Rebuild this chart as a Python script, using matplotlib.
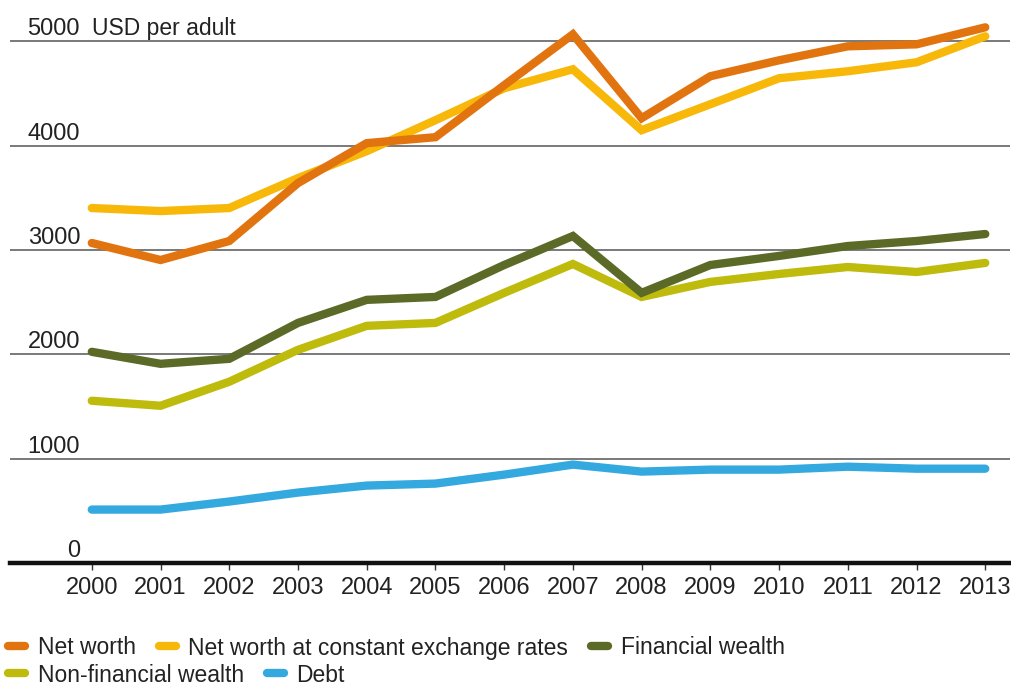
import matplotlib
matplotlib.use('Agg')
import matplotlib.pyplot as plt
from matplotlib.lines import Line2D

plt.rcParams['font.family'] = ['Liberation Sans', 'DejaVu Sans']

years = list(range(2000, 2014))
net_worth = [3067, 2904, 3086, 3641, 4024, 4081, 4579, 5067, 4263, 4665, 4818, 4952, 4971, 5134]
net_worth_const = [3402, 3373, 3402, 3689, 3947, 4244, 4550, 4732, 4148, 4397, 4646, 4713, 4799, 5048]
financial = [2024, 1909, 1957, 2301, 2522, 2550, 2856, 3134, 2589, 2856, 2943, 3038, 3086, 3153]
non_financial = [1555, 1507, 1737, 2043, 2273, 2301, 2589, 2866, 2550, 2694, 2770, 2837, 2789, 2876]
debt = [512, 512, 589, 675, 742, 761, 847, 943, 876, 895, 895, 923, 904, 904]

y_ticks = [0, 1000, 2000, 3000, 4000, 5000]
unit_label = 'USD per adult'

series = [
    ('Net worth', net_worth, '#E2740F'),
    ('Net worth at constant exchange rates', net_worth_const, '#F8B80A'),
    ('Financial wealth', financial, '#5B6A26'),
    ('Non-financial wealth', non_financial, '#BEBB0C'),
    ('Debt', debt, '#33A9DF'),
]

fig = plt.figure(figsize=(10.11, 6.87), dpi=100)
ax = fig.add_axes([10 / 1011, 1 - 563 / 687, 1000 / 1011, 553 / 687])

for g in y_ticks[1:]:
    ax.axhline(g, color='#555555', lw=1.1, zorder=1)

for name, vals, col in series[::-1]:
    ax.plot(years, vals, color=col, lw=6, solid_capstyle='round',
            solid_joinstyle='miter', zorder=3)

ax.set_xlim(1998.81, 2013.36)
ax.set_ylim(0, 5300)

for s in ['top', 'right', 'left']:
    ax.spines[s].set_visible(False)
ax.spines['bottom'].set_linewidth(3.2)
ax.spines['bottom'].set_color('#111111')
ax.set_yticks([])
ax.set_xticks(years)
ax.set_xticklabels([str(y) for y in years], fontsize=17, color='#222222')
ax.tick_params(axis='x', length=5, width=1, color='#333333', pad=5)

for v in y_ticks:
    ax.text(1999.83, v + 58, str(v), ha='right', va='baseline',
            fontsize=17, color='#222222')
ax.text(2000.0, 5058, unit_label, ha='left', va='baseline', fontsize=16.5,
        color='#222222')

handles = [Line2D([], [], color=c, lw=6, solid_capstyle='round') for _, _, c in series]
labels = [n for n, _, _ in series]

kw = dict(frameon=False, fontsize=16.5, handlelength=0.75, handletextpad=0.55,
          columnspacing=1.0, borderpad=0, borderaxespad=0, labelcolor='#222222')
fig.legend(handles[:3], labels[:3], ncol=3, loc='center left',
           bbox_to_anchor=(8 / 1011, 1 - 648 / 687), **kw)
fig.legend(handles[3:], labels[3:], ncol=2, loc='center left',
           bbox_to_anchor=(8 / 1011, 1 - 675 / 687), **kw)

fig.savefig('out.png', dpi=100)
